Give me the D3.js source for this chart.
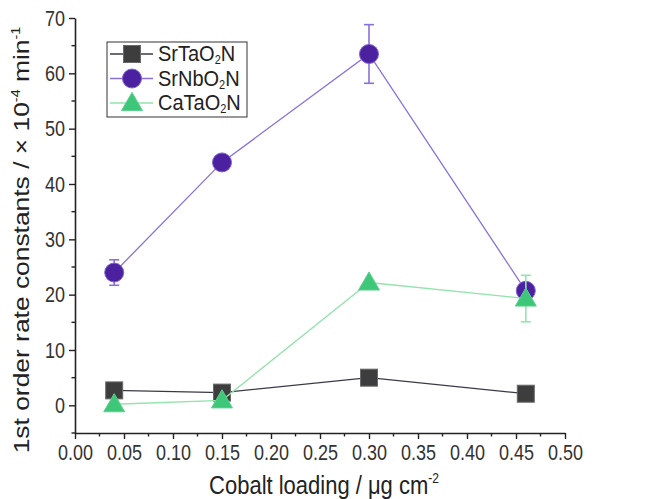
<!DOCTYPE html>
<html>
<head>
<meta charset="utf-8">
<script src="https://cdn.jsdelivr.net/npm/d3@7"></script>
<style>
  body { margin: 0; background: #fff; }
  text { font-family: "Liberation Sans", Arial, sans-serif; }
</style>
</head>
<body>
<div id="chart"></div>
<script>
// data
var loadings = [0.04, 0.15, 0.30, 0.46];
var srTaValues = [2.7, 2.3, 5.0, 2.1];
var srTaErrors = [0, 0, 0, 0];
var srNbValues = [24.0, 43.9, 63.5, 20.7];
var srNbErrors = [2.3, 0, 5.3, 0.8];
var caTaValues = [0.2, 0.9, 22.2, 19.3];
var caTaErrors = [0, 0, 0, 4.2];
var xTicks = [0, 0.05, 0.1, 0.15, 0.2, 0.25, 0.3, 0.35, 0.4, 0.45, 0.5];
var yTicks = [0, 10, 20, 30, 40, 50, 60, 70];
var legendNames = [["SrTaO", "N"], ["SrNbO", "N"], ["CaTaO", "N"]];

var width = 646, height = 499;
var margin = { left: 75, right: 81, top: 18, bottom: 66 };
var stretch = 1.2; // the source figure is slightly taller than wide in its lettering

var svg = d3.select("#chart").append("svg")
  .attr("width", width)
  .attr("height", height);

var x = d3.scaleLinear().domain([0, 0.5]).range([margin.left, width - margin.right]);
var y = d3.scaleLinear().domain([-5, 70]).range([height - margin.bottom, margin.top]);

var series = [
  { values: srTaValues, errors: srTaErrors,
    fill: "#3d3d3d", stroke: "#6a6a6a", line: "#3a3a46", shape: "square" },
  { values: srNbValues, errors: srNbErrors,
    fill: "#4b21a0", stroke: "#7f60d0", line: "#8a70dc", shape: "circle" },
  { values: caTaValues, errors: caTaErrors,
    fill: "#3ec779", stroke: "#5dd08e", line: "#92e3ac", shape: "triangle" }
];

// axes
var xAxis = d3.axisBottom(x).tickValues(xTicks).tickFormat(d3.format(".2f")).tickSize(6).tickSizeOuter(0);
var yAxis = d3.axisLeft(y).tickValues(yTicks).tickSize(6).tickSizeOuter(0);

var gx = svg.append("g")
  .attr("transform", "translate(0," + y(-5) + ")")
  .call(xAxis);
var gy = svg.append("g")
  .attr("transform", "translate(" + x(0) + ",0)")
  .call(yAxis);

[gx, gy].forEach(function(g) {
  g.select(".domain").attr("stroke", "#222").attr("stroke-width", 1.6);
  g.selectAll(".tick line").attr("stroke", "#222").attr("stroke-width", 1.4);
  g.selectAll(".tick text").attr("font-size", 18).attr("fill", "#333")
    .style("font-family", "'Liberation Sans', Arial, sans-serif");
});
gx.selectAll(".tick text").attr("y", 0).attr("dy", "0.72em")
  .attr("transform", "translate(0,11) scale(1," + stretch + ")");
gy.selectAll(".tick text").attr("x", -10).attr("dy", "0.33em")
  .attr("transform", "scale(1," + stretch + ")");

// minor ticks
var xMinor = d3.range(0.025, 0.5, 0.05);
gx.selectAll(".minor").data(xMinor).enter().append("line")
  .attr("x1", function(d) { return x(d); })
  .attr("x2", function(d) { return x(d); })
  .attr("y1", 0).attr("y2", 3.5)
  .attr("stroke", "#222").attr("stroke-width", 1.4);

var yMinor = [-5, 5, 15, 25, 35, 45, 55, 65];
gy.selectAll(".minor").data(yMinor).enter().append("line")
  .attr("y1", function(d) { return y(d); })
  .attr("y2", function(d) { return y(d); })
  .attr("x1", 0).attr("x2", -3.5)
  .attr("stroke", "#222").attr("stroke-width", 1.4);

// axis titles
var xt = svg.append("text")
  .attr("transform", "translate(" + (x(0.25) + 4) + ",494) scale(1," + stretch + ")")
  .attr("text-anchor", "middle")
  .attr("font-size", 22).attr("fill", "#222");
xt.append("tspan").text("Cobalt loading / \u03bcg cm");
xt.append("tspan").attr("font-size", 12).attr("dy", -9).text("-2");

var yt = svg.append("text")
  .attr("transform", "translate(29,240) rotate(-90) scale(" + stretch + ",1)")
  .attr("text-anchor", "middle")
  .attr("font-size", 22).attr("fill", "#222");
yt.append("tspan").text("1st order rate constants / \u00d7 10");
yt.append("tspan").attr("font-size", 12).attr("dy", -9).text("-4");
yt.append("tspan").attr("dy", 9).text(" min");
yt.append("tspan").attr("font-size", 12).attr("dy", -9).text("-1");

function drawMarker(g, shape, cx, cy, s) {
  if (shape === "square") {
    g.append("rect").attr("x", cx - 8.5).attr("y", cy - 8.5).attr("width", 17).attr("height", 17)
      .attr("fill", s.fill).attr("stroke", s.stroke).attr("stroke-width", 1);
  } else if (shape === "circle") {
    g.append("circle").attr("cx", cx).attr("cy", cy).attr("r", 9.5)
      .attr("fill", s.fill).attr("stroke", s.stroke).attr("stroke-width", 1);
  } else {
    var sym = d3.symbol().type(d3.symbolTriangle).size(190);
    g.append("path").attr("d", sym())
      .attr("transform", "translate(" + cx + "," + (cy + 1.5) + ")")
      .attr("fill", s.fill).attr("stroke", s.stroke).attr("stroke-width", 1);
  }
}

var line = d3.line()
  .x(function(d, i) { return x(loadings[i]); })
  .y(function(d) { return y(d); });

series.forEach(function(s) {
  var g = svg.append("g");
  g.append("path").datum(s.values)
    .attr("d", line)
    .attr("fill", "none")
    .attr("stroke", s.line)
    .attr("stroke-width", 1.3);

  // error bars
  s.values.forEach(function(v, i) {
    var e = s.errors[i];
    if (!e) return;
    var cx = x(loadings[i]);
    g.append("line").attr("x1", cx).attr("x2", cx)
      .attr("y1", y(v - e)).attr("y2", y(v + e))
      .attr("stroke", s.line).attr("stroke-width", 1.6);
    [v - e, v + e].forEach(function(t) {
      g.append("line").attr("x1", cx - 5).attr("x2", cx + 5)
        .attr("y1", y(t)).attr("y2", y(t))
        .attr("stroke", s.line).attr("stroke-width", 1.6);
    });
  });

  s.values.forEach(function(v, i) {
    drawMarker(g, s.shape, x(loadings[i]), y(v), s);
  });
});

// legend
var legend = svg.append("g").attr("transform", "translate(107,42)");
legend.append("rect").attr("width", 140).attr("height", 75)
  .attr("fill", "#fff").attr("stroke", "#333").attr("stroke-width", 1);
series.forEach(function(s, i) {
  var ly = 12 + i * 24.5;
  legend.append("line").attr("x1", 3).attr("x2", 46).attr("y1", ly).attr("y2", ly)
    .attr("stroke", s.line).attr("stroke-width", 1.3);
  drawMarker(legend, s.shape, 25, ly, s);
  var t = legend.append("text")
    .attr("transform", "translate(51," + (ly + 7) + ") scale(1,1.1)")
    .attr("font-size", 20).attr("fill", "#222");
  t.append("tspan").text(legendNames[i][0]);
  t.append("tspan").attr("font-size", 11).attr("dy", 3).text("2");
  t.append("tspan").attr("dy", -3).text(legendNames[i][1]);
});
</script>
</body>
</html>
